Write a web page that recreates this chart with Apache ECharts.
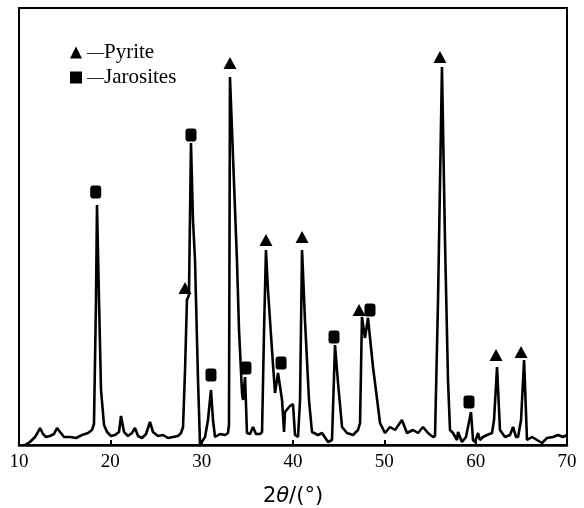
<!DOCTYPE html>
<html>
<head>
<meta charset="utf-8">
<script src="https://cdn.jsdelivr.net/npm/echarts@6/dist/echarts.min.js"></script>
<style>
  html, body { margin: 0; padding: 0; background: #fff; }
  #chart { width: 584px; height: 508px; }
</style>
</head>
<body>
<div id="chart"></div>
<script>
// XRD pattern, 2theta (deg) vs intensity (arbitrary units)
var twoTheta = [
  10.66, 11.20, 11.75, 12.08, 12.30, 12.63, 12.96, 13.39, 13.83, 14.16,
  14.49, 14.93, 15.58, 16.24, 16.90, 17.55, 17.99, 18.21, 18.43, 18.54,
  18.76, 18.98, 19.31, 19.64, 20.07, 20.51, 20.95, 21.17, 21.50, 21.93,
  22.37, 22.70, 23.03, 23.47, 23.91, 24.34, 24.67, 25.22, 25.77, 26.31,
  26.86, 27.41, 27.74, 27.96, 28.18, 28.39, 28.61, 28.83, 29.05, 29.27,
  29.60, 29.82, 30.15, 30.37, 30.69, 31.02, 31.24, 31.46, 32.01, 32.57,
  32.88, 32.99, 33.10, 33.87, 34.09, 34.42, 34.53, 34.75, 34.96,
  35.29, 35.62, 35.95, 36.39, 36.61, 36.83, 37.04, 37.26, 37.70, 38.03,
  38.36, 38.80, 39.02, 39.12, 39.67, 40.00, 40.22, 40.55, 40.77, 40.99,
  41.31, 41.75, 42.08, 42.74, 43.18, 43.83, 44.27, 44.60, 44.93, 45.37,
  45.91, 46.57, 47.12, 47.34, 47.55, 47.88, 48.21, 48.76, 49.53, 50.07,
  50.62, 51.17, 51.93, 52.48, 53.14, 53.69, 54.23, 54.78, 55.33, 55.55,
  55.88, 56.31, 56.64, 56.97, 57.19, 57.52, 57.96, 58.07, 58.50, 58.94,
  59.49, 59.71, 59.93, 60.26, 60.47, 60.80, 61.24, 61.79, 62.01, 62.34,
  62.66, 63.21, 63.76, 64.09, 64.42, 64.64, 64.97, 65.30, 65.62, 66.17,
  66.72, 67.26, 67.81, 68.47, 69.02, 69.56, 70.00
];
var intensity = [
  0, 3, 8, 13, 17, 11, 8, 9, 11, 17,
  13, 8, 8, 7, 10, 12, 15, 21, 145, 240,
  145, 55, 20, 13, 9, 10, 13, 29, 13, 9,
  12, 17, 9, 7, 11, 23, 13, 9, 10, 7,
  8, 9, 12, 18, 75, 145, 150, 302, 225, 185,
  65, 0, 5, 8, 25, 55, 25, 8, 11, 10,
  12, 20, 368, 183, 115, 52, 45, 68, 12,
  11, 18, 11, 11, 13, 115, 195, 155, 95, 52,
  72, 45, 13, 33, 39, 41, 10, 8, 45, 195,
  125, 45, 13, 10, 12, 3, 5, 100, 62, 18,
  12, 10, 15, 22, 128, 107, 127, 78, 22, 12,
  18, 15, 25, 12, 15, 12, 18, 12, 8, 9,
  145, 378, 205, 65, 15, 12, 5, 13, 3, 8,
  33, 5, 3, 12, 5, 8, 10, 12, 25, 78,
  15, 8, 10, 18, 8, 8, 25, 85, 5, 8,
  5, 2, 7, 8, 10, 8, 10
];

// phase markers
var pyriteTheta = [28.18, 33.10, 37.04, 40.99, 47.23, 56.09, 62.23, 64.97];
var pyriteMark = [157, 382, 205, 208, 135, 388, 90, 93];
var jarositeTheta = [18.40, 28.83, 31.02, 34.85, 38.69, 44.49, 48.43, 59.27];
var jarositeMark = [253, 310, 70, 77, 82, 108, 135, 43];

var xTicks = { min: 10, max: 70, interval: 10 };

function pairs(xs, ys) {
  return xs.map(function (x, i) { return [x, ys[i]]; });
}

var serif = 'Liberation Serif';
var chart = echarts.init(document.getElementById('chart'));

chart.setOption({
  animation: false,
  backgroundColor: '#fff',
  grid: {
    left: 19, right: 17, top: 8, bottom: 63,
    outerBoundsMode: 'none',
    show: true, borderColor: '#000', borderWidth: 2
  },
  legend: {
    orient: 'vertical',
    left: 70, top: 42,
    itemWidth: 12, itemHeight: 12,
    itemGap: 4,
    selectedMode: false,
    data: [
      { name: 'Pyrite', icon: 'triangle', itemStyle: { opacity: 1, color: '#000' } },
      { name: 'Jarosites', icon: 'rect', itemStyle: { opacity: 1, color: '#000' } }
    ],
    formatter: function (name) { return '{d|—}' + name; },
    textStyle: {
      fontFamily: serif, fontSize: 21, color: '#000',
      rich: { d: { fontFamily: serif, fontSize: 17, color: '#000' } }
    },
    padding: 0
  },
  xAxis: {
    type: 'value',
    min: xTicks.min, max: xTicks.max, interval: xTicks.interval,
    name: '2{i|θ}/(°)',
    nameLocation: 'middle',
    nameGap: 41,
    nameTextStyle: {
      fontFamily: 'DejaVu Sans', fontSize: 21, color: '#000',
      rich: { i: { fontFamily: 'DejaVu Sans', fontSize: 21, fontStyle: 'italic', color: '#000' } }
    },
    axisLine: { lineStyle: { color: '#000', width: 2.5 } },
    axisTick: { inside: true, length: 5, lineStyle: { color: '#000', width: 2 } },
    axisLabel: { fontFamily: serif, fontSize: 19, color: '#000', margin: 8 },
    splitLine: { show: false }
  },
  yAxis: {
    type: 'value', min: 0, max: 437, show: false,
    splitLine: { show: false }
  },
  series: [
    {
      type: 'line',
      data: pairs(twoTheta, intensity),
      showSymbol: false,
      lineStyle: { color: '#000', width: 2.6 },
      z: 2
    },
    {
      name: 'Pyrite',
      type: 'scatter',
      symbol: 'triangle',
      symbolSize: [13, 12],
      itemStyle: { color: '#000', opacity: 1 },
      data: pairs(pyriteTheta, pyriteMark),
      z: 3
    },
    {
      name: 'Jarosites',
      type: 'scatter',
      symbol: 'roundRect',
      symbolSize: [11, 13],
      itemStyle: { color: '#000', opacity: 1 },
      data: pairs(jarositeTheta, jarositeMark),
      z: 3
    }
  ]
});
</script>
</body>
</html>
